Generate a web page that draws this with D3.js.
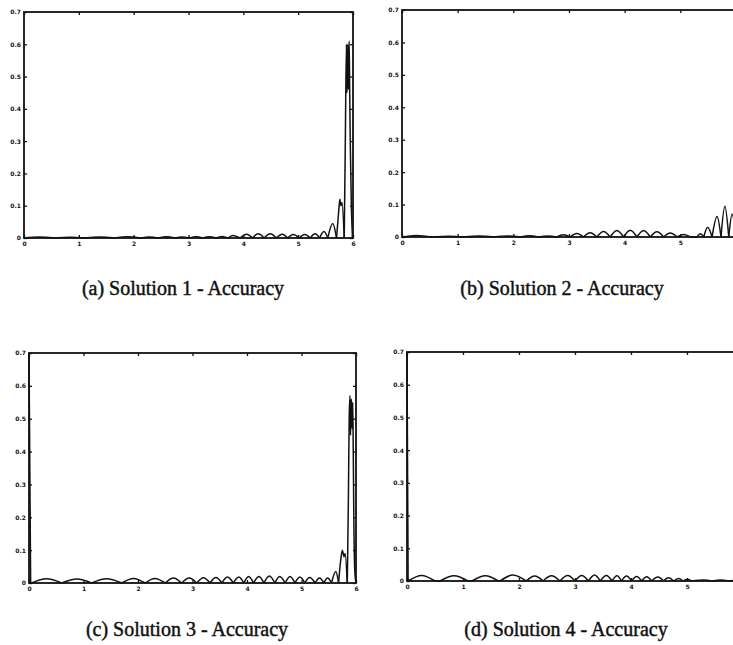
<!DOCTYPE html>
<html>
<head>
<meta charset="utf-8">
<script src="https://cdnjs.cloudflare.com/ajax/libs/d3/7.8.5/d3.min.js"></script>
<style>
	body { margin: 0; background: #fff; }
	svg { display: block; }
	.axis path { display: none; }
	.axis line { stroke: #111; stroke-width: 1.3; }
	.axis text { font-family: "DejaVu Sans", sans-serif; font-size: 6px; font-weight: bold; fill: #111; }
	.frame { fill: none; stroke: #111; stroke-width: 1.8; }
	.curve { fill: none; stroke: #111; stroke-width: 1.5; stroke-linejoin: round; }
	.caption { font-family: "Liberation Serif", serif; font-size: 20px; fill: #111; stroke: #111; stroke-width: 0.45; }
</style>
</head>
<body>
<svg width="733" height="645"></svg>
<script>

const X_TICKS = [0, 1, 2, 3, 4, 5, 6];
const Y_TICKS = [0, 0.1, 0.2, 0.3, 0.4, 0.5, 0.6, 0.7];
const CAPTIONS = ['(a) Solution 1 - Accuracy', '(b) Solution 2 - Accuracy',
                  '(c) Solution 3 - Accuracy', '(d) Solution 4 - Accuracy'];

// arches alternate zero / top, spikes near x = 6
const sol1X = [0, 0.28, 0.55, 0.84, 1.12, 1.38, 1.65, 1.89, 2.13, 2.29,
               2.45, 2.60, 2.75, 2.88, 3.02, 3.14, 3.26, 3.38, 3.50, 3.61,
               3.72, 3.81, 3.94, 4.06, 4.17, 4.27, 4.38, 4.49, 4.60, 4.71,
               4.81, 4.91, 5.02, 5.12, 5.22, 5.31, 5.39, 5.47, 5.54, 5.63,
               5.70, 5.74, 5.76, 5.78, 5.80, 5.84,
               5.86, 5.88, 5.89, 5.905, 5.915, 5.93, 5.94, 5.95, 5.97, 5.99, 6.0];
const sol1Y = [0, 0.003, 0, 0.002, 0, 0.003, 0, 0.004, 0, 0.003,
               0, 0.004, 0, 0.003, 0, 0.004, 0, 0.004, 0, 0.005,
               0, 0.008, 0, 0.012, 0, 0.013, 0, 0.013, 0, 0.012,
               0, 0.011, 0, 0.011, 0, 0.013, 0, 0.02, 0, 0.045,
               0, 0.085, 0.12, 0.10, 0.11, 0,
               0.3, 0.6, 0.45, 0.6, 0.46, 0.61, 0.45, 0.3, 0.1, 0, 0];

const sol2X = [0, 0.25, 0.55, 0.84, 1.12, 1.38, 1.65, 1.89, 2.13, 2.29,
               2.45, 2.62, 2.78, 2.90, 3.02, 3.14, 3.26, 3.38, 3.50, 3.62,
               3.74, 3.86, 3.98, 4.10, 4.22, 4.34, 4.46, 4.58, 4.70, 4.82,
               4.94, 5.06, 5.18, 5.30, 5.36, 5.42, 5.49, 5.57, 5.66, 5.73,
               5.80, 5.87, 5.93, 6.0];
const sol2Y = [0, 0.005, 0, 0.002, 0, 0.003, 0, 0.003, 0, 0.004,
               0, 0.003, 0, 0.007, 0, 0.011, 0, 0.013, 0, 0.017,
               0, 0.02, 0, 0.021, 0, 0.02, 0, 0.016, 0, 0.012,
               0, 0.008, 0, 0, 0.01, 0, 0.03, 0, 0.063, 0,
               0.095, 0, 0.07, 0];

const sol3X = [0, 0.03, 0.05, 0.32, 0.60, 0.88, 1.15, 1.42, 1.70, 1.92,
               2.13, 2.31, 2.50, 2.65, 2.80, 2.94, 3.08, 3.20, 3.32, 3.43,
               3.54, 3.64, 3.75, 3.85, 3.94, 4.03, 4.12, 4.22, 4.31, 4.41,
               4.51, 4.60, 4.70, 4.79, 4.88, 4.97, 5.06, 5.15, 5.25, 5.33,
               5.41, 5.48, 5.55, 5.63, 5.68, 5.72, 5.75, 5.78, 5.80, 5.84,
               5.86, 5.875, 5.89, 5.90, 5.915, 5.93, 5.94, 5.95, 5.96, 5.98, 6.0];
const sol3Y = [0.7, 0, 0, 0.013, 0, 0.012, 0, 0.013, 0, 0.014,
               0, 0.014, 0, 0.015, 0, 0.015, 0, 0.016, 0, 0.017,
               0, 0.018, 0, 0.018, 0, 0.02, 0, 0.02, 0, 0.021,
               0, 0.02, 0, 0.02, 0, 0.018, 0, 0.017, 0, 0.015,
               0, 0.015, 0, 0.035, 0, 0.07, 0.1, 0.08, 0.09, 0,
               0.25, 0.5, 0.57, 0.45, 0.56, 0.47, 0.55, 0.4, 0.2, 0.03, 0];

const sol4X = [0, 0.02, 0.26, 0.50, 0.59, 0.84, 1.09, 1.16, 1.40, 1.63,
               1.66, 1.89, 2.13, 2.28, 2.43, 2.58, 2.73, 2.87, 3.00, 3.12,
               3.24, 3.35, 3.45, 3.56, 3.66, 3.75, 3.83, 3.92, 4.01, 4.10,
               4.19, 4.28, 4.37, 4.48, 4.58, 4.67, 4.76, 4.85, 4.93, 5.01,
               5.08, 5.30, 5.45, 5.60, 5.75, 5.90, 6.0];
const sol4Y = [0.7, 0, 0.017, 0, 0, 0.016, 0, 0, 0.016, 0,
               0, 0.018, 0, 0.015, 0, 0.016, 0, 0.017, 0, 0.017,
               0, 0.018, 0, 0.017, 0, 0.016, 0, 0.015, 0, 0.014,
               0, 0.013, 0, 0.012, 0, 0.01, 0, 0.008, 0, 0.005,
               0, 0.003, 0, 0.003, 0, 0.002, 0];

// where each little plot sits on the page (b and d run past the right edge)
const panels = [
	{ xs: sol1X, ys: sol1Y, left: 24,  right: 353, top: 12,  bottom: 238, cap: [183, 295] },
	{ xs: sol2X, ys: sol2Y, left: 402, right: 736, top: 10,  bottom: 237, cap: [562, 295] },
	{ xs: sol3X, ys: sol3Y, left: 29,  right: 356, top: 353, bottom: 583, cap: [187, 636] },
	{ xs: sol4X, ys: sol4Y, left: 407, right: 743, top: 352, bottom: 581, cap: [566, 636] }
];

// cut the curve at every zero so each arch gets its own sharp feet
function splitAtZeros(xs, ys) {
	let segs = [], cur = [[xs[0], ys[0]]];
	for (let i = 1; i < xs.length; i++) {
		cur.push([xs[i], ys[i]]);
		if (ys[i] === 0 && i < xs.length - 1) {
			segs.push(cur);
			cur = [[xs[i], ys[i]]];
		}
	}
	segs.push(cur);
	return segs;
}

let svg = d3.select('svg');
const W = +svg.attr('width');

panels.forEach((p, k) => {
	let x = d3.scaleLinear().domain([0, 6]).range([p.left, p.right]);
	let y = d3.scaleLinear().domain([0, 0.7]).range([p.bottom, p.top]);
	let g = svg.append('g');

	let line = d3.line().x(d => x(d[0])).y(d => y(d[1])).curve(d3.curveMonotoneX);
	g.append('g')
		.selectAll('path')
		.data(splitAtZeros(p.xs, p.ys))
		.enter()
		.append('path')
		.attr('class', 'curve')
		.attr('d', line);

	g.append('rect').attr('class', 'frame')
		.attr('x', p.left).attr('y', p.top)
		.attr('width', p.right - p.left).attr('height', p.bottom - p.top);

	// labels that would fall off the page are not drawn (cut in the original too)
	let xFmt = d => x(d) > W - 4 ? '' : d3.format('d')(d);
	let yFmt = d => d === 0 ? '0' : d.toFixed(1);
	g.append('g').attr('class', 'axis').attr('transform', 'translate(0,' + p.bottom + ')')
		.call(d3.axisBottom(x).tickValues(X_TICKS).tickSizeInner(-3).tickSizeOuter(0).tickPadding(4).tickFormat(xFmt));
	g.append('g').attr('class', 'axis').attr('transform', 'translate(0,' + p.top + ')')
		.call(d3.axisTop(x).tickValues(X_TICKS).tickSizeInner(-3).tickSizeOuter(0).tickFormat(''));
	g.append('g').attr('class', 'axis').attr('transform', 'translate(' + p.left + ',0)')
		.call(d3.axisLeft(y).tickValues(Y_TICKS).tickSizeInner(-3).tickSizeOuter(0).tickPadding(3).tickFormat(yFmt));
	g.append('g').attr('class', 'axis').attr('transform', 'translate(' + p.right + ',0)')
		.call(d3.axisRight(y).tickValues(Y_TICKS).tickSizeInner(-3).tickSizeOuter(0).tickFormat(''));

	svg.append('text').attr('class', 'caption')
		.attr('x', p.cap[0]).attr('y', p.cap[1])
		.attr('text-anchor', 'middle')
		.text(CAPTIONS[k]);
});
</script>
</body>
</html>
